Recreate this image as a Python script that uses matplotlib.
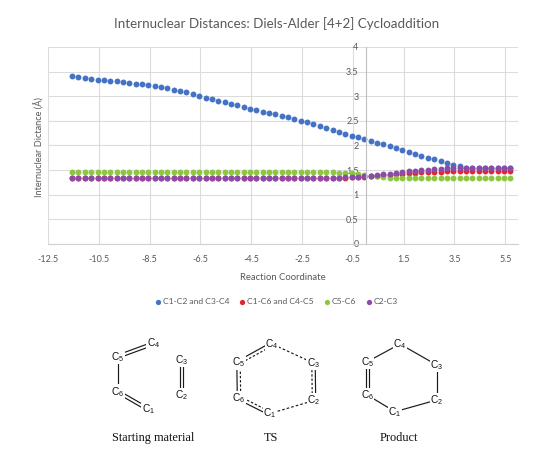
import math
import matplotlib
matplotlib.use('Agg')
import matplotlib.pyplot as plt
from matplotlib.lines import Line2D

# ---------------- data ----------------
reaction_coord = [-11.55, -11.3, -11.05, -10.8, -10.55, -10.3, -10.05, -9.8, -9.55, -9.3,
                  -9.05, -8.8, -8.55, -8.3, -8.05, -7.8, -7.55, -7.3, -7.05, -6.8,
                  -6.55, -6.3, -6.05, -5.8, -5.55, -5.3, -5.05, -4.8, -4.55, -4.3,
                  -4.05, -3.8, -3.55, -3.3, -3.05, -2.8, -2.55, -2.3, -2.05, -1.8,
                  -1.55, -1.3, -1.05, -0.8, -0.55, -0.3, -0.05, 0.2, 0.45, 0.7,
                  0.95, 1.2, 1.45, 1.7, 1.95, 2.2, 2.45, 2.7, 2.95, 3.2,
                  3.45, 3.7, 3.95, 4.2, 4.45, 4.7, 4.95, 5.2, 5.45, 5.7]

c1c2_c3c4 = [3.42, 3.40, 3.38, 3.36, 3.34, 3.33, 3.31, 3.30, 3.28, 3.27,
             3.25, 3.24, 3.22, 3.20, 3.18, 3.16, 3.13, 3.11, 3.08, 3.05,
             3.01, 2.97, 2.94, 2.91, 2.88, 2.85, 2.82, 2.78, 2.75, 2.72,
             2.69, 2.66, 2.63, 2.60, 2.57, 2.53, 2.50, 2.47, 2.43, 2.40,
             2.36, 2.32, 2.28, 2.24, 2.20, 2.17, 2.13, 2.10, 2.06, 2.03,
             1.99, 1.95, 1.91, 1.87, 1.83, 1.79, 1.75, 1.72, 1.68, 1.65,
             1.61, 1.58, 1.55, 1.54, 1.54, 1.54, 1.54, 1.54, 1.54, 1.54]

c1c6_c4c5 = [1.335] * 41 + [1.34, 1.345, 1.35, 1.355, 1.36, 1.365, 1.375, 1.385, 1.395,
                            1.405, 1.415, 1.425, 1.435, 1.445, 1.455, 1.46, 1.465, 1.47,
                            1.475] + [1.48] * 10

c5c6 = [1.47] * 38 + [1.465, 1.46, 1.46, 1.455, 1.45, 1.445, 1.44, 1.43, 1.41, 1.39,
                      1.375, 1.36, 1.35, 1.345, 1.34] + [1.335] * 17

c2c3 = [1.335] * 39 + [1.34, 1.34, 1.345, 1.35, 1.355, 1.36, 1.37, 1.38, 1.39, 1.40,
                       1.42, 1.43, 1.45, 1.46, 1.48, 1.49, 1.50, 1.51, 1.52, 1.53,
                       1.535, 1.54] + [1.545] * 9

series_values = [c1c2_c3c4, c1c6_c4c5, c5c6, c2c3]
series_labels = ['C1-C2 and C3-C4', 'C1-C6 and C4-C5', 'C5-C6', 'C2-C3']
series_colors = ['#4473C5', '#E3262D', '#8DC641', '#8B4BA8']

x_ticks = [-12.5, -10.5, -8.5, -6.5, -4.5, -2.5, -0.5, 1.5, 3.5, 5.5]
x_tick_labels = ['-12.5', '-10.5', '-8.5', '-6.5', '-4.5', '-2.5', '-0.5', '1.5', '3.5', '5.5']
y_ticks = [0, 0.5, 1, 1.5, 2, 2.5, 3, 3.5, 4]
y_tick_labels = ['0', '0.5', '1', '1.5', '2', '2.5', '3', '3.5', '4']

title = 'Internuclear Distances: Diels-Alder [4+2] Cycloaddition'
x_label = 'Reaction Coordinate'
y_label = 'Internuclear Dictance (Å)'

# ---------------- figure ----------------
plt.rcParams['font.family'] = ['Lato', 'DejaVu Sans']
plt.rcParams['mathtext.fontset'] = 'custom'
plt.rcParams['mathtext.rm'] = 'Liberation Sans'
plt.rcParams['mathtext.it'] = 'Liberation Sans:italic'

W, H = 550, 475
fig = plt.figure(figsize=(W / 100, H / 100), dpi=100)
fig.patch.set_facecolor('white')

ax = fig.add_axes([48 / W, 1 - 244 / H, (518 - 48) / W, (244 - 47) / H])
ax.set_xlim(-12.5, 6.0)
ax.set_ylim(0, 4)
for vals, col in zip(series_values, series_colors):
    ax.scatter(reaction_coord, vals, s=18, color=col, linewidths=0, zorder=2)

ax.set_xticks(x_ticks)
ax.set_xticklabels(x_tick_labels)
ax.set_yticks(y_ticks)
ax.set_yticklabels(y_tick_labels)
ax.grid(True, color='#DCDCDC', lw=0.8)
ax.set_axisbelow(True)
for sp in ['top', 'right']:
    ax.spines[sp].set_visible(False)
ax.spines['left'].set_position(('data', 0))
ax.spines['left'].set_color('#BFBFBF')
ax.spines['left'].set_linewidth(0.8)
ax.spines['bottom'].set_color('#D0D0D0')
ax.spines['bottom'].set_linewidth(0.8)
ax.tick_params(length=0, labelsize=6.5, labelcolor='#595959')
ax.tick_params(axis='x', pad=8)
ax.tick_params(axis='y', pad=5)

fig.text(277 / W, 1 - 24 / H, title, ha='center', va='center', fontsize=9.6, color='#595959')
fig.text(283 / W, 1 - 277 / H, x_label, ha='center', va='center', fontsize=6.8, color='#595959')
fig.text(39 / W, 1 - 147 / H, y_label, ha='center', va='center', rotation=90,
         fontsize=6.6, color='#595959')

handles = [Line2D([], [], ls='none', marker='o', markersize=3.8, color=c, mec='none')
           for c in series_colors]
fig.legend(handles, series_labels, loc='center', bbox_to_anchor=(276 / W, 1 - 302 / H),
           ncol=4, frameon=False, fontsize=6.1, handletextpad=0.1, columnspacing=1.0,
           handlelength=1.0, labelcolor='#595959')

# ---------------- structures ----------------
mol = fig.add_axes([0, 0, 1, 1])
mol.set_xlim(0, W)
mol.set_ylim(H, 0)
mol.axis('off')

structures = [
    {
        'caption': 'Starting material', 'cap_pos': (153, 438),
        'atoms': {'C1': (148.5, 409.5), 'C2': (181.7, 395), 'C3': (181.7, 360),
                  'C4': (153.5, 343.5), 'C5': (117.5, 356.7), 'C6': (117.5, 391.7)},
        'bonds': [('C5', 'C4', 'double'), ('C5', 'C6', 'single'),
                  ('C6', 'C1', 'double'), ('C3', 'C2', 'double')],
    },
    {
        'caption': 'TS', 'cap_pos': (271.5, 438),
        'atoms': {'C1': (270, 413.5), 'C2': (314, 400.5), 'C3': (313.5, 363),
                  'C4': (272, 344), 'C5': (238.5, 362.5), 'C6': (239, 398)},
        'bonds': [('C5', 'C4', 'partial'), ('C4', 'C3', 'dashed'), ('C3', 'C2', 'partial'),
                  ('C2', 'C1', 'dashed'), ('C1', 'C6', 'partial'), ('C6', 'C5', 'partial')],
    },
    {
        'caption': 'Product', 'cap_pos': (398.5, 438),
        'atoms': {'C1': (395, 411.7), 'C2': (436.7, 400), 'C3': (436.7, 365),
                  'C4': (400, 344), 'C5': (367.3, 361.7), 'C6': (367.3, 395)},
        'bonds': [('C5', 'C4', 'single'), ('C4', 'C3', 'single'), ('C3', 'C2', 'single'),
                  ('C2', 'C1', 'single'), ('C1', 'C6', 'single'), ('C6', 'C5', 'double')],
    },
]

bond_color = '#1a1a1a'
lw = 0.85
for st in structures:
    atoms = st['atoms']
    cx = sum(p[0] for p in atoms.values()) / len(atoms)
    cy = sum(p[1] for p in atoms.values()) / len(atoms)
    for a, b, kind in st['bonds']:
        (x1, y1), (x2, y2) = atoms[a], atoms[b]
        L = math.hypot(x2 - x1, y2 - y1)
        ux, uy = (x2 - x1) / L, (y2 - y1) / L
        sh = 7.0
        ax1, ay1 = x1 + ux * sh, y1 + uy * sh
        ax2, ay2 = x2 - ux * sh, y2 - uy * sh
        nx, ny = -uy, ux
        mx, my = (ax1 + ax2) / 2, (ay1 + ay2) / 2
        if (cx - mx) * nx + (cy - my) * ny < 0:
            nx, ny = -nx, -ny
        if kind == 'single':
            mol.plot([ax1, ax2], [ay1, ay2], color=bond_color, lw=lw)
        elif kind == 'dashed':
            mol.plot([ax1, ax2], [ay1, ay2], color=bond_color, lw=lw, ls=(0, (2.2, 1.8)))
        elif kind == 'double':
            o = 1.6
            for s in (-1, 1):
                mol.plot([ax1 + s * o * nx, ax2 + s * o * nx], [ay1 + s * o * ny, ay2 + s * o * ny],
                         color=bond_color, lw=lw)
        elif kind == 'partial':
            o = 1.7
            mol.plot([ax1 - o * nx, ax2 - o * nx], [ay1 - o * ny, ay2 - o * ny],
                     color=bond_color, lw=lw)
            mol.plot([ax1 + o * nx, ax2 + o * nx], [ay1 + o * ny, ay2 + o * ny],
                     color=bond_color, lw=lw, ls=(0, (2.0, 1.6)))
    for name, (px, py) in atoms.items():
        mol.text(px, py, r'C$_{%s}$' % name[1], ha='center', va='center', fontsize=7.3,
                 color='#111111', family='Liberation Sans',
                 bbox=dict(boxstyle='square,pad=0.05', fc='white', ec='none'))
    mol.text(st['cap_pos'][0], st['cap_pos'][1], st['caption'], ha='center', va='center',
             fontsize=8.8, family='Liberation Serif', color='#111111')

fig.savefig('out.png', dpi=100, facecolor='white')
